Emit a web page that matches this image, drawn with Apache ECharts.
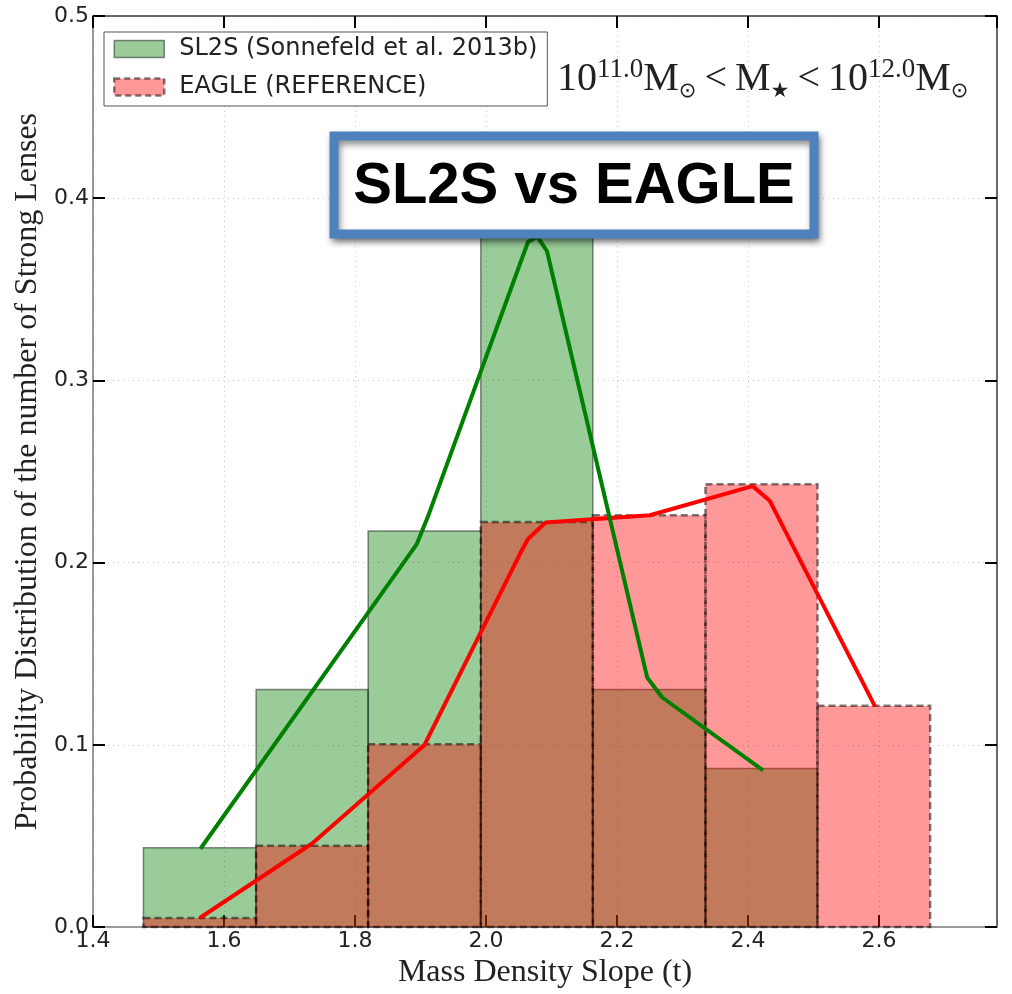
<!DOCTYPE html>
<html>
<head>
<meta charset="utf-8">
<script src="https://cdn.jsdelivr.net/npm/echarts@6/dist/echarts.min.js"></script>
<style>
  html, body { margin: 0; padding: 0; background: #ffffff; }
  #chart { width: 1012px; height: 994px; }
</style>
</head>
<body>
<div id="chart"></div>
<script>
// Histogram bin edges (mass density slope t)
const binEdges = [1.477, 1.649, 1.820, 1.992, 2.163, 2.335, 2.506, 2.678];
// Fraction of strong lenses per bin
const sl2sFraction = [0.0435, 0.1304, 0.2174, 0.3913, 0.1304, 0.0870];
const eagleFraction = [0.005, 0.0447, 0.1003, 0.2223, 0.226, 0.243, 0.1215];
// Smoothed trend curves [t, fraction]
const sl2sCurve = [
  [1.564, 0.043], [1.894, 0.210], [1.911, 0.225], [2.064, 0.376],
  [2.078, 0.379], [2.093, 0.371], [2.246, 0.137], [2.269, 0.126], [2.423, 0.086]
];
const eagleCurve = [
  [1.563, 0.005], [1.735, 0.046], [1.906, 0.100], [2.052, 0.205], [2.064, 0.213],
  [2.091, 0.222], [2.250, 0.226], [2.407, 0.242], [2.433, 0.234], [2.594, 0.121]
];
const sl2sName = 'SL2S (Sonnefeld et al. 2013b)';
const eagleName = 'EAGLE (REFERENCE)';

const toBins = (vals) => vals.map((v, i) => [binEdges[i], binEdges[i + 1], v]);

function histRenderer(style) {
  return function (params, api) {
    const x0 = api.value(0), x1 = api.value(1), h = api.value(2);
    const pTop = api.coord([x0, h]);
    const pBot = api.coord([x1, 0]);
    return {
      type: 'rect',
      shape: { x: pTop[0], y: pTop[1], width: pBot[0] - pTop[0], height: pBot[1] - pTop[1] },
      style: style
    };
  };
}

const tickFont = { fontFamily: 'DejaVu Sans', fontSize: 22, color: '#222' };
const serif = 'Liberation Serif';
const frameColor = '#3a3a3a';

const chart = echarts.init(document.getElementById('chart'), null, { renderer: 'canvas' });

chart.setOption({
  animation: false,
  backgroundColor: '#ffffff',
  grid: { left: 93, right: 15, top: 16, bottom: 61 },
  legend: {
    orient: 'vertical',
    left: 104, top: 32,
    padding: [5, 10, 7, 9],
    itemGap: 14,
    itemWidth: 50, itemHeight: 17,
    backgroundColor: '#ffffff',
    borderColor: '#555', borderWidth: 1, borderRadius: 0,
    selectedMode: false,
    textStyle: { fontFamily: 'DejaVu Sans', fontSize: 24, color: '#222', padding: [0, 0, 0, 10] },
    data: [
      { name: sl2sName, icon: 'rect',
        itemStyle: { color: 'rgba(0,128,0,0.4)', borderColor: 'rgba(0,0,0,0.45)', borderWidth: 1.5 } },
      { name: eagleName, icon: 'rect',
        itemStyle: { color: 'rgba(255,0,0,0.4)', borderColor: 'rgba(0,0,0,0.5)', borderWidth: 2.5, borderType: [6, 4] } }
    ]
  },
  xAxis: [
    {
      type: 'value', min: 1.4, max: 2.78, interval: 0.2,
      position: 'bottom',
      name: 'Mass Density Slope (t)', nameLocation: 'middle', nameGap: 22,
      nameTextStyle: { fontFamily: serif, fontSize: 32, color: '#222' },
      axisLine: { show: true, onZero: false, lineStyle: { color: '#9a9a9a', width: 2 } },
      axisTick: { show: true, inside: true, length: 12, lineStyle: { color: '#000', width: 2 } },
      axisLabel: { ...tickFont, margin: 3, showMaxLabel: false, formatter: (v) => v.toFixed(1) },
      splitLine: { show: true, lineStyle: { color: '#c4c4c4', type: [1, 4], width: 1 } }
    },
    {
      type: 'value', min: 1.4, max: 2.78, interval: 0.2,
      position: 'top',
      axisLine: { show: true, onZero: false, lineStyle: { color: frameColor, width: 1.5 } },
      axisTick: { show: true, inside: true, length: 12, lineStyle: { color: '#000', width: 2 } },
      axisLabel: { show: false },
      splitLine: { show: false }
    }
  ],
  yAxis: [
    {
      type: 'value', min: 0, max: 0.5, interval: 0.1,
      position: 'left',
      name: 'Probability Distribution of the number of Strong Lenses',
      nameLocation: 'middle', nameGap: 44,
      nameTextStyle: { fontFamily: serif, fontSize: 32, color: '#222' },
      axisLine: { show: true, onZero: false, lineStyle: { color: '#777', width: 1.5 } },
      axisTick: { show: true, inside: true, length: 12, lineStyle: { color: '#000', width: 2 } },
      axisLabel: { ...tickFont, margin: 4, formatter: (v) => v.toFixed(1) },
      splitLine: { show: true, lineStyle: { color: '#c4c4c4', type: [1, 4], width: 1 } }
    },
    {
      type: 'value', min: 0, max: 0.5, interval: 0.1,
      position: 'right',
      axisLine: { show: true, onZero: false, lineStyle: { color: frameColor, width: 1.5 } },
      axisTick: { show: true, inside: true, length: 12, lineStyle: { color: '#000', width: 2 } },
      axisLabel: { show: false },
      splitLine: { show: false }
    }
  ],
  series: [
    {
      name: sl2sName, type: 'custom', xAxisIndex: 0, yAxisIndex: 0,
      renderItem: histRenderer({ fill: 'rgba(0,128,0,0.4)', stroke: 'rgba(0,0,0,0.45)', lineWidth: 1.5 }),
      encode: { x: [0, 1], y: 2 },
      itemStyle: { color: 'rgba(0,128,0,0.4)' },
      data: toBins(sl2sFraction), z: 2
    },
    {
      name: eagleName, type: 'custom', xAxisIndex: 0, yAxisIndex: 0,
      renderItem: histRenderer({ fill: 'rgba(255,0,0,0.4)', stroke: 'rgba(0,0,0,0.5)', lineWidth: 2.5, lineDash: [7, 4] }),
      encode: { x: [0, 1], y: 2 },
      itemStyle: { color: 'rgba(255,0,0,0.4)' },
      data: toBins(eagleFraction), z: 3
    },
    {
      name: 'EAGLE trend', type: 'line', xAxisIndex: 0, yAxisIndex: 0,
      data: eagleCurve, showSymbol: false, symbol: 'none',
      lineStyle: { color: '#ff0000', width: 4 }, z: 4
    },
    {
      name: 'SL2S trend', type: 'line', xAxisIndex: 0, yAxisIndex: 0,
      data: sl2sCurve, showSymbol: false, symbol: 'none',
      lineStyle: { color: '#008000', width: 4 }, z: 5
    }
  ],
  graphic: [
    {
      type: 'text', left: 557, top: 56, z: 100,
      style: {
        text: '{n|10}{sup|11.0}{n|M}{sub|⊙}{n|\u2009<\u2009M}{sub|★}{n|\u2009<\u200910}{sup|12.0}{n|M}{sub|⊙}',
        rich: {
          n: { fontFamily: serif, fontSize: 40, lineHeight: 46, fill: '#222' },
          sup: { fontFamily: serif, fontSize: 27, lineHeight: 27, verticalAlign: 'top', fill: '#222' },
          sub: { fontFamily: 'DejaVu Sans', fontSize: 21, lineHeight: 21, verticalAlign: 'bottom', fill: '#222' }
        }
      }
    },
    {
      type: 'rect', z: 100,
      shape: { x: 334, y: 136, width: 480, height: 98 },
      style: {
        fill: '#ffffff', stroke: '#4f81bd', lineWidth: 9,
        shadowBlur: 6, shadowColor: 'rgba(0,0,0,0.45)', shadowOffsetX: 2, shadowOffsetY: 4
      }
    },
    {
      type: 'text', z: 101,
      x: 574, y: 187,
      style: {
        text: 'SL2S vs EAGLE',
        fontFamily: 'Liberation Sans', fontWeight: 'bold', fontSize: 58,
        fill: '#000000', align: 'center', verticalAlign: 'middle'
      }
    }
  ]
});
</script>
</body>
</html>
